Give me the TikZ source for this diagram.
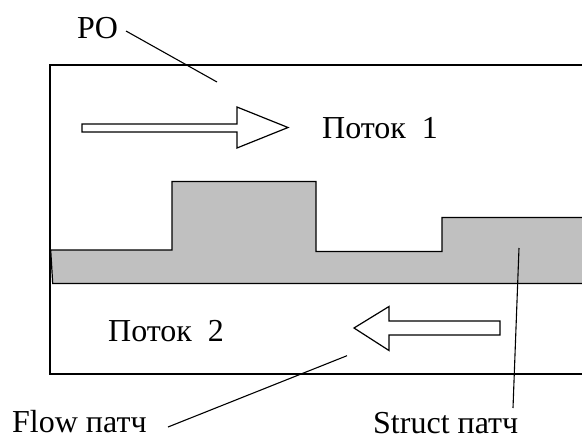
\documentclass[tikz,border=0pt]{standalone}
\usepackage{fontspec}
\setmainfont{Liberation Serif}
\definecolor{patchgray}{RGB}{192,192,192}
\tikzset{
  outline/.style={line width=1.2pt, line join=miter},
  patch/.style={outline, fill=patchgray, draw=black},
  hollowarrow/.style={outline, fill=white, draw=black},
  leader/.style={line width=1.1pt},
  lbl/.style={inner sep=0pt, anchor=base west, text depth=0pt,
    font=\fontsize{32}{38}\selectfont}
}
\begin{document}
\begin{tikzpicture}[x=1pt, y=-1pt]
  \useasboundingbox (0,0) rectangle (582,440);
  \clip (0,0) rectangle (582,440);

  % channel walls
  \draw[outline] (620,65) -- (50,65) -- (50,374) -- (620,374);

  % solid structure in the middle of the channel
  \draw[patch] (50.7,250) -- (172,250) -- (172,181.5) -- (316,181.5)
     -- (316,251.5) -- (442,251.5) -- (442,217.5) -- (620,217.5)
     -- (620,283.5) -- (52.7,283.5) -- cycle;

  % flow direction arrows
  \draw[hollowarrow] (82,124) -- (237,124) -- (237,107) -- (288,127.5)
     -- (237,148) -- (237,132) -- (82,132) -- cycle;
  \draw[hollowarrow] (500,321) -- (389,321) -- (389,306.5) -- (354,328)
     -- (389,350.5) -- (389,335) -- (500,335) -- cycle;

  % labels
  \node[lbl] (po) at (77,38) {PO};
  \node[lbl] (flow1) at (322,138) {Поток\ \ 1};
  \node[lbl] (flow2) at (108,341) {Поток\ \ 2};
  \node[lbl] (flowpatch) at (12,432) {Flow патч};
  \node[lbl] (structpatch) at (373,433) {Struct патч};

  % leader lines
  \coordinate (poA) at (126,31);
  \coordinate (poB) at (217,82);
  \coordinate (fpA) at (168,427);
  \coordinate (fpB) at (347,355.7);
  \coordinate (spA) at (513,408);
  \coordinate (spB) at (519,248);
  \draw[leader] (poA) -- (poB);
  \draw[leader] (fpA) -- (fpB);
  \draw[leader] (spA) -- (spB);
\end{tikzpicture}
\end{document}
